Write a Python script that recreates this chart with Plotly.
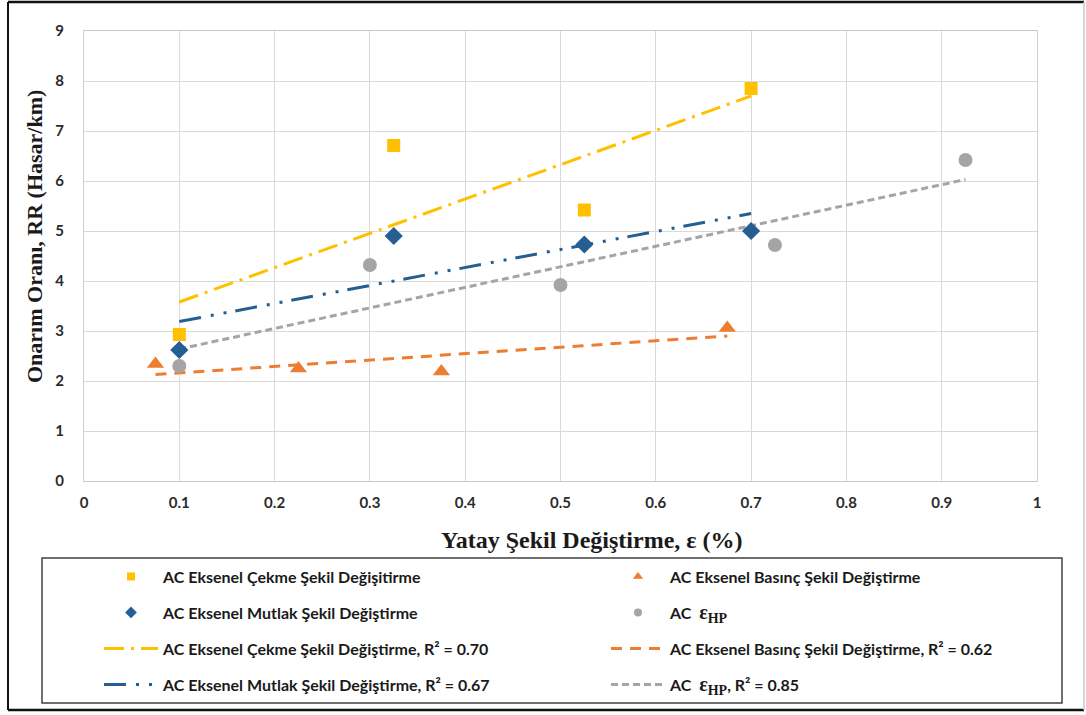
import plotly.graph_objects as go

# ---- data ----
x_cekme = [0.1, 0.325, 0.525, 0.7]
y_cekme = [2.93, 6.71, 5.42, 7.85]
x_basinc = [0.075, 0.225, 0.375, 0.675]
y_basinc = [2.34, 2.25, 2.19, 3.06]
x_mutlak = [0.1, 0.325, 0.525, 0.7]
y_mutlak = [2.62, 4.90, 4.73, 5.00]
x_hp = [0.1, 0.3, 0.5, 0.725, 0.925]
y_hp = [2.30, 4.32, 3.92, 4.72, 6.42]

# linear trend lines (end points)
tx_cekme = [0.1, 0.7]
ty_cekme = [3.58, 7.70]
tx_basinc = [0.075, 0.675]
ty_basinc = [2.13, 2.90]
tx_mutlak = [0.1, 0.7]
ty_mutlak = [3.19, 5.35]
tx_hp = [0.1, 0.925]
ty_hp = [2.64, 6.03]

x_ticks = [0, 0.1, 0.2, 0.3, 0.4, 0.5, 0.6, 0.7, 0.8, 0.9, 1]
x_tick_text = ["0", "0.1", "0.2", "0.3", "0.4", "0.5", "0.6", "0.7", "0.8", "0.9", "1"]
y_ticks = [0, 1, 2, 3, 4, 5, 6, 7, 8, 9]

EPS = '<span style="font-family:Liberation Serif;font-size:20px">ε<sub>HP</sub></span>'
names = {
    "cekme": "AC Eksenel Çekme Şekil Değişitirme",
    "basinc": "AC Eksenel Basınç Şekil Değiştirme",
    "mutlak": "AC Eksenel Mutlak Şekil Değiştirme",
    "hp": "AC  " + EPS,
    "t_cekme": "AC Eksenel Çekme Şekil Değiştirme, R² = 0.70",
    "t_basinc": "AC Eksenel Basınç Şekil Değiştirme, R² = 0.62",
    "t_mutlak": "AC Eksenel Mutlak Şekil Değiştirme, R² = 0.67",
    "t_hp": "AC  " + EPS + ", R² = 0.85",
}

YELLOW = "#FFC000"
ORANGE = "#ED7D31"
BLUE = "#255E91"
GRAY = "#A5A5A5"

DASH_Y = "20px,7px,3px,7px"
DASH_B = "22px,10px,3px,10px,3px,9px"
DASH_G = "7px,4px"
DASH_O = "11px,8px"

fig = go.Figure()

# trend lines
fig.add_trace(go.Scatter(x=tx_cekme, y=ty_cekme, mode="lines", showlegend=False,
                         line=dict(color=YELLOW, width=3, dash=DASH_Y)))
fig.add_trace(go.Scatter(x=tx_basinc, y=ty_basinc, mode="lines", showlegend=False,
                         line=dict(color=ORANGE, width=3, dash=DASH_O)))
fig.add_trace(go.Scatter(x=tx_mutlak, y=ty_mutlak, mode="lines", showlegend=False,
                         line=dict(color=BLUE, width=3, dash=DASH_B)))
fig.add_trace(go.Scatter(x=tx_hp, y=ty_hp, mode="lines", showlegend=False,
                         line=dict(color=GRAY, width=3, dash=DASH_G)))

# data markers
fig.add_trace(go.Scatter(x=x_cekme, y=y_cekme, mode="markers", showlegend=False,
                         marker=dict(symbol="square", size=13, color=YELLOW)))
fig.add_trace(go.Scatter(x=x_basinc, y=y_basinc, mode="markers", showlegend=False,
                         marker=dict(symbol="triangle-up", size=15, color=ORANGE)))
fig.add_trace(go.Scatter(x=x_mutlak, y=y_mutlak, mode="markers", showlegend=False,
                         marker=dict(symbol="diamond", size=14, color=BLUE)))
fig.add_trace(go.Scatter(x=x_hp, y=y_hp, mode="markers", showlegend=False,
                         marker=dict(symbol="circle", size=14, color=GRAY)))

# legend-only entries (one legend per entry for exact placement)
leg_items = [
    ("legend", names["cekme"], "markers", dict(symbol="square", size=8, color=YELLOW), None),
    ("legend2", names["basinc"], "markers", dict(symbol="triangle-up", size=9, color=ORANGE), None),
    ("legend3", names["mutlak"], "markers", dict(symbol="diamond", size=9, color=BLUE), None),
    ("legend4", names["hp"], "markers", dict(symbol="circle", size=8, color=GRAY), None),
    ("legend5", names["t_cekme"], "lines", None, dict(color=YELLOW, width=3, dash=DASH_Y)),
    ("legend6", names["t_basinc"], "lines", None, dict(color=ORANGE, width=3, dash=DASH_O)),
    ("legend7", names["t_mutlak"], "lines", None, dict(color=BLUE, width=3, dash=DASH_B)),
    ("legend8", names["t_hp"], "lines", None, dict(color=GRAY, width=3, dash=DASH_G)),
]
for leg, name, mode, mk, ln in leg_items:
    kw = dict(x=[None], y=[None], mode=mode, name=name, legend=leg, showlegend=True)
    if mk:
        kw["marker"] = mk
    if ln:
        kw["line"] = ln
    fig.add_trace(go.Scatter(**kw))

# geometry helpers (plot area: x 84..1037 px, y 31..481 px)
L, R, T, B = 84, 1037, 31, 481
def px(xp):
    return (xp - L) / (R - L)
def py(yp):
    return (B - yp) / (B - T)

legend_font = dict(family="Lato", size=16, color="#1a1a1a", weight="bold")
col_x = [px(99), px(606)]
row_y = [py(576.5), py(612.5), py(648.5), py(684.5)]
leg_layout = {}
for i, (leg, *_rest) in enumerate(leg_items):
    r, c = divmod(i, 2)
    leg_layout[leg] = dict(
        x=col_x[c], y=row_y[r], xanchor="left", yanchor="middle",
        orientation="v", bgcolor="rgba(0,0,0,0)", borderwidth=0,
        itemwidth=54, font=legend_font, itemclick=False, itemdoubleclick=False,
    )

tick_font = dict(family="Lato", size=15, color="#2b2b2b", weight="bold")
grid = "#D9D9D9"

fig.update_layout(
    width=1086, height=715,
    margin=dict(l=L, r=1086 - R, t=T, b=715 - B),
    paper_bgcolor="white", plot_bgcolor="white",
    xaxis=dict(range=[0, 1], tickvals=x_ticks, ticktext=x_tick_text,
               showgrid=True, gridcolor=grid, gridwidth=1, zeroline=False,
               showline=True, linecolor="#C8C8C8", linewidth=1, mirror=True,
               ticks="", tickfont=tick_font, ticklabelstandoff=8),
    yaxis=dict(range=[0, 9], tickvals=y_ticks,
               showgrid=True, gridcolor=grid, gridwidth=1, zeroline=False,
               showline=True, linecolor="#D0D0D0", linewidth=1, mirror=True,
               ticks="", tickfont=tick_font, ticklabelstandoff=16),
    annotations=[
        dict(text="Yatay Şekil Değiştirme, ε (%)", x=px(592), y=py(540),
             xref="paper", yref="paper", showarrow=False, xanchor="center", yanchor="middle",
             font=dict(family="Liberation Serif", size=24, color="#1a1a1a", weight="bold")),
        dict(text="Onarım Oranı, RR (Hasar/km)", x=px(35), y=py(237),
             xref="paper", yref="paper", showarrow=False, textangle=-90,
             xanchor="center", yanchor="middle",
             font=dict(family="Liberation Serif", size=22, color="#1a1a1a", weight="bold")),
    ],
    shapes=[
        # legend box
        dict(type="rect", xref="paper", yref="paper",
             x0=px(42), x1=px(1062), y0=py(703), y1=py(558),
             line=dict(color="#404040", width=1.5), fillcolor="rgba(0,0,0,0)"),
        # outer frame
        dict(type="line", xref="paper", yref="paper", x0=px(8), x1=px(8), y0=py(2), y1=py(710),
             line=dict(color="#111111", width=2)),
        dict(type="line", xref="paper", yref="paper", x0=px(8), x1=px(1084), y0=py(2), y1=py(2),
             line=dict(color="#111111", width=2.5)),
        dict(type="line", xref="paper", yref="paper", x0=px(8), x1=px(1084), y0=py(710), y1=py(710),
             line=dict(color="#111111", width=2.5)),
        dict(type="line", xref="paper", yref="paper", x0=px(1084), x1=px(1084), y0=py(2), y1=py(710),
             line=dict(color="#C8C8C8", width=1.5)),
    ],
    **leg_layout,
)

fig.write_html("out.html", config={"displayModeBar": False},
               post_script="document.body.style.margin='0px';")
